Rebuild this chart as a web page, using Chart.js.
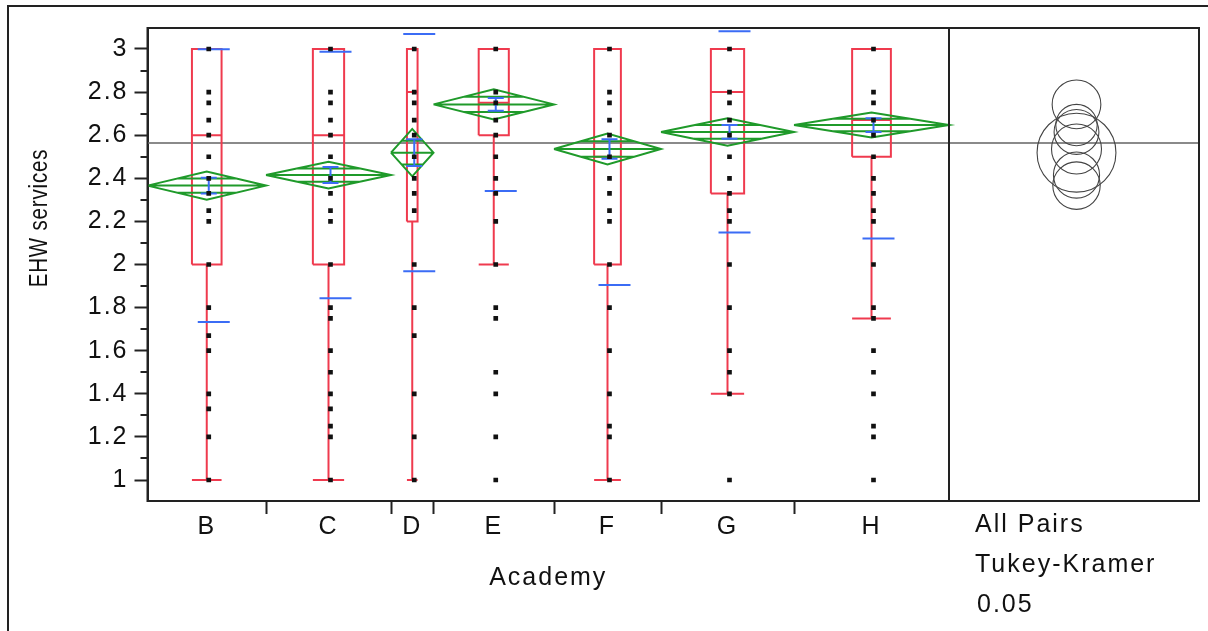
<!DOCTYPE html>
<html>
<head>
<meta charset="utf-8">
<script src="https://cdn.jsdelivr.net/npm/chart.js@4.4.1/dist/chart.umd.min.js"></script>
<style>
  html, body { margin: 0; padding: 0; background: #fff; }
</style>
</head>
<body>
<canvas id="chart" width="1208" height="631"></canvas>
<script>
// ---- data ----
const academies = ['B', 'C', 'D', 'E', 'F', 'G', 'H'];
// relative group sizes (JMP draws each group with a width proportional to n)
const groupSize = [118.5, 125, 42.5, 120.5, 107, 133, 155];

const means   = [2.366, 2.415, 2.519, 2.743, 2.536, 2.615, 2.647];
const ciHalf  = [0.065, 0.062, 0.110, 0.070, 0.072, 0.064, 0.058];   // means diamonds
const seHalf  = [0.037, 0.037, 0.062, 0.030, 0.045, 0.032, 0.032];   // blue error bars
const stdDev  = [0.633, 0.572, 0.550, 0.402, 0.631, 0.467, 0.526];   // blue std dev lines
const tukeyRadius = [0.110, 0.107, 0.183, 0.113, 0.116, 0.104, 0.096];

const q1        = [2.0, 2.0, 2.2, 2.6, 2.0, 2.33, 2.5];
const medians   = [2.6, 2.6, 2.8, 2.75, 2.5, 2.8, 2.67];
const q3        = [3.0, 3.0, 3.0, 3.0, 3.0, 3.0, 3.0];
const whiskerLo = [1.0, 1.0, 1.0, 2.0, 1.0, 1.4, 1.75];
const whiskerHi = [3.0, 3.0, 3.0, 3.0, 3.0, 3.0, 3.0];

const grandMean = 2.564;

const scoresB = [3, 2.8, 2.75, 2.67, 2.6, 2.5, 2.4, 2.33, 2.25, 2.2, 2, 1.8, 1.67, 1.6, 1.4, 1.33, 1.2, 1];
const scoresC = [3, 2.8, 2.75, 2.67, 2.6, 2.5, 2.4, 2.33, 2.25, 2.2, 2, 1.8, 1.75, 1.6, 1.5, 1.4, 1.33, 1.25, 1.2, 1];
const scoresD = [3, 2.8, 2.75, 2.67, 2.6, 2.5, 2.4, 2.33, 2.25, 2, 1.8, 1.67, 1.4, 1.2, 1];
const scoresE = [3, 2.8, 2.75, 2.67, 2.6, 2.5, 2.4, 2.33, 2.2, 2, 1.8, 1.75, 1.5, 1.4, 1.2, 1];
const scoresF = [3, 2.8, 2.75, 2.67, 2.6, 2.5, 2.4, 2.33, 2.25, 2.2, 2, 1.8, 1.6, 1.4, 1.25, 1.2, 1];
const scoresG = [3, 2.8, 2.75, 2.67, 2.6, 2.5, 2.4, 2.33, 2.25, 2.2, 2, 1.8, 1.6, 1.5, 1.4, 1];
const scoresH = [3, 2.8, 2.75, 2.67, 2.6, 2.5, 2.4, 2.33, 2.25, 2.2, 2, 1.8, 1.75, 1.6, 1.5, 1.4, 1.25, 1.2, 1];
const scores = [scoresB, scoresC, scoresD, scoresE, scoresF, scoresG, scoresH];

const yTicks = [1, 1.2, 1.4, 1.6, 1.8, 2, 2.2, 2.4, 2.6, 2.8, 3];
const yMinorTicks = [1.1, 1.3, 1.5, 1.7, 1.9, 2.1, 2.3, 2.5, 2.7, 2.9];

// ---- layout of the x axis ----
const FONT = '"Liberation Sans", Arial, sans-serif';
const RED = '#ef3a4e', GREEN = '#1f9a2a', BLUE = '#3b6cf5', GREY = '#8a8a8a';

const bounds = [0];
groupSize.forEach(w => bounds.push(bounds[bounds.length - 1] + w));
const plotEnd = bounds[bounds.length - 1];
const panelWidth = 250;
const xMax = plotEnd + panelWidth;
const centers = groupSize.map((w, i) => bounds[i] + w / 2);

// tick list: labelled centers (no mark) and unlabelled group boundaries (mark)
const xTicks = [];
academies.forEach((a, i) => {
    xTicks.push({ value: centers[i], label: a });
    if (i < academies.length - 1) xTicks.push({ value: bounds[i + 1], label: '' });
});

const GAP = x => ({ x: x, y: null });

function boxPath(i) {
    const c = centers[i], hb = groupSize[i] * 0.125;
    const pts = [
        { x: c - hb, y: q1[i] }, { x: c + hb, y: q1[i] }, { x: c + hb, y: q3[i] },
        { x: c - hb, y: q3[i] }, { x: c - hb, y: q1[i] }, GAP(c),
        { x: c - hb, y: medians[i] }, { x: c + hb, y: medians[i] }, GAP(c),
        { x: c, y: q1[i] }, { x: c, y: whiskerLo[i] }, GAP(c),
        { x: c - hb, y: whiskerLo[i] }, { x: c + hb, y: whiskerLo[i] }
    ];
    if (whiskerHi[i] > q3[i]) {
        pts.push(GAP(c), { x: c, y: q3[i] }, { x: c, y: whiskerHi[i] }, GAP(c),
            { x: c - hb, y: whiskerHi[i] }, { x: c + hb, y: whiskerHi[i] });
    }
    return pts;
}

function diamondPath(i) {
    const L = bounds[i], R = bounds[i + 1], c = centers[i], m = means[i], h = ciHalf[i];
    const o = h * 0.5;
    const hw = (groupSize[i] / 2) * 0.5;
    return [
        { x: L, y: m }, { x: c, y: m + h }, { x: R, y: m }, { x: c, y: m - h }, { x: L, y: m }, GAP(c),
        { x: L, y: m }, { x: R, y: m }, GAP(c),
        { x: c - hw, y: m + o }, { x: c + hw, y: m + o }, GAP(c),
        { x: c - hw, y: m - o }, { x: c + hw, y: m - o }
    ];
}

function bluePath(i) {
    const c = centers[i], cx = c + 2, m = means[i], se = seHalf[i], sd = stdDev[i];
    return [
        { x: cx, y: m - se }, { x: cx, y: m + se }, GAP(c),
        { x: cx - 8, y: m + se }, { x: cx + 8, y: m + se }, GAP(c),
        { x: cx - 8, y: m - se }, { x: cx + 8, y: m - se }, GAP(c),
        { x: c - 9, y: m + sd }, { x: c + 23, y: m + sd }, GAP(c),
        { x: c - 9, y: m - sd }, { x: c + 23, y: m - sd }
    ];
}

const datasets = [];

// data points (on top)
datasets.push({
    type: 'scatter',
    data: scores.flatMap((vals, i) => vals.map(v => ({ x: centers[i] + 2, y: v }))),
    pointStyle: 'rect', pointRadius: 3.3, pointBackgroundColor: '#111', pointBorderWidth: 0,
    order: 0
});

academies.forEach((a, i) => {
    datasets.push({ type: 'line', label: a + ' sd', data: bluePath(i), borderColor: BLUE,
        borderWidth: 2, pointRadius: 0, spanGaps: false, order: 1 });
    datasets.push({ type: 'line', label: a + ' diamond', data: diamondPath(i), borderColor: GREEN,
        borderWidth: 2, pointRadius: 0, spanGaps: false, order: 2 });
    datasets.push({ type: 'line', label: a + ' box', data: boxPath(i), borderColor: RED,
        borderWidth: 2, pointRadius: 0, spanGaps: false, order: 3 });
});

// comparison circles
datasets.push({
    type: 'scatter',
    data: means.map(m => ({ x: plotEnd + panelWidth * 0.51, y: m })),
    pointStyle: 'circle',
    pointBackgroundColor: 'rgba(0,0,0,0)', pointBorderColor: '#444', pointBorderWidth: 1.1,
    pointRadius: ctx => {
        const s = ctx.chart.scales.y;
        return s.getPixelForValue(0) - s.getPixelForValue(tukeyRadius[ctx.dataIndex]);
    },
    order: 2
});

// grand mean
datasets.push({ type: 'line', data: [{ x: 0, y: grandMean }, { x: xMax, y: grandMean }],
    borderColor: GREY, borderWidth: 2, pointRadius: 0, order: 5 });

const framePlugin = {
    id: 'jmpFrame',
    beforeLayout(chart) {
        chart.ctx.letterSpacing = '2px';
    },
    beforeDraw(chart) {
        const ctx = chart.ctx;
        ctx.letterSpacing = '2px';
        ctx.save();
        ctx.fillStyle = '#fff';
        ctx.fillRect(0, 0, chart.width, chart.height);
        ctx.restore();
    },
    afterDraw(chart) {
        const { ctx, chartArea: a, scales: { x, y } } = chart;
        ctx.save();
        ctx.strokeStyle = '#222';
        ctx.lineWidth = 2;
        // minor y ticks
        yMinorTicks.forEach(v => {
            const py = Math.round(y.getPixelForValue(v));
            ctx.beginPath();
            ctx.moveTo(a.left - 7, py);
            ctx.lineTo(a.left, py);
            ctx.stroke();
        });
        // plot frame and divider before the comparison-circle panel
        ctx.strokeRect(a.left, a.top, a.right - a.left, a.bottom - a.top);
        const dx = x.getPixelForValue(plotEnd);
        ctx.beginPath();
        ctx.moveTo(dx, a.top);
        ctx.lineTo(dx, a.bottom);
        ctx.stroke();
        // outer report frame
        ctx.beginPath();
        ctx.moveTo(8, chart.height);
        ctx.lineTo(8, 6);
        ctx.lineTo(chart.width, 6);
        ctx.stroke();

        // texts
        ctx.fillStyle = '#111';
        ctx.textBaseline = 'middle';
        ctx.textAlign = 'center';
        ctx.save();
        ctx.letterSpacing = '1px';
        ctx.font = '25px ' + FONT;
        ctx.translate(40, 218);
        ctx.rotate(-Math.PI / 2);
        ctx.scale(0.82, 1);
        ctx.fillText('EHW services', 0, 0);
        ctx.restore();
        ctx.font = '25px ' + FONT;
        ctx.fillText('Academy', x.getPixelForValue(plotEnd / 2), 578);
        ctx.textAlign = 'left';
        ctx.fillText('All Pairs', dx + 26, 525);
        ctx.fillText('Tukey-Kramer', dx + 26, 565);
        ctx.fillText('0.05', dx + 28, 605);
        ctx.restore();
    }
};

new Chart(document.getElementById('chart'), {
    type: 'line',
    data: { datasets: datasets },
    options: {
        responsive: false,
        animation: false,
        events: [],
        layout: { padding: { top: 28, right: 9, left: 0, bottom: 0 } },
        plugins: { legend: { display: false }, tooltip: { enabled: false } },
        scales: {
            x: {
                type: 'linear', min: 0, max: xMax, bounds: 'data',
                afterBuildTicks: s => { s.ticks = xTicks.map(t => ({ value: t.value })); },
                afterFit: s => { s.height = 130; },
                ticks: {
                    autoSkip: false, maxRotation: 0, minRotation: 0, padding: -2,
                    color: '#111', font: { family: FONT, size: 25 },
                    callback: (v, i) => xTicks[i].label
                },
                grid: {
                    drawOnChartArea: false, tickLength: 13, tickWidth: 2,
                    tickColor: ctx => (xTicks[ctx.index] && xTicks[ctx.index].label) ? 'rgba(0,0,0,0)' : '#222'
                },
                border: { color: '#222', width: 2 }
            },
            y: {
                type: 'linear', min: 0.9026, max: 3.0974, bounds: 'data',
                afterBuildTicks: s => { s.ticks = yTicks.map(v => ({ value: v })); },
                afterFit: s => { s.width = 147.5; },
                ticks: {
                    padding: 6, color: '#111', font: { family: FONT, size: 25 },
                    callback: v => String(+v.toFixed(1))
                },
                grid: { drawOnChartArea: false, tickLength: 13, tickWidth: 2, tickColor: '#222' },
                border: { color: '#222', width: 2 }
            }
        }
    },
    plugins: [framePlugin]
});
</script>
</body>
</html>
